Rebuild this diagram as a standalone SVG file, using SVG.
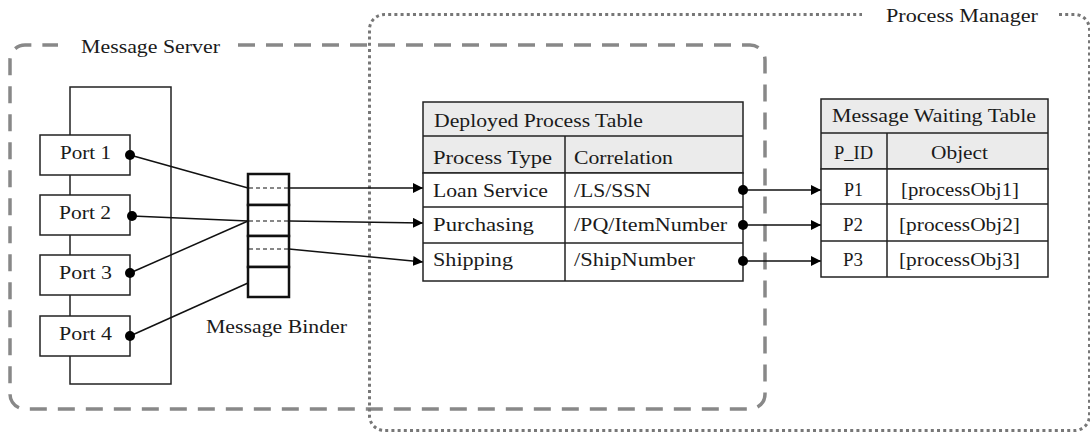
<svg xmlns="http://www.w3.org/2000/svg" width="1090" height="433" viewBox="0 0 1090 433">
  <defs>
    <style>
      text { font-family: "Liberation Serif", "DejaVu Serif", serif; font-size: 18px; fill: #1a1a1a; }
      .zone-dash { fill: none; stroke: #888; stroke-width: 3.5; stroke-dasharray: 17 11; }
      .zone-dot { fill: none; stroke: #777; stroke-width: 3; stroke-dasharray: 3 3.2; }
      .box { fill: #fff; stroke: #222; stroke-width: 1.5; }
      .head { fill: #ebebeb; stroke: #222; stroke-width: 1.5; }
      .grid { stroke: #222; stroke-width: 1.5; fill: none; }
      .slot { fill: #fff; stroke: #111; stroke-width: 2.5; }
      .slot-mark { stroke: #111; stroke-width: 1.2; stroke-dasharray: 4 3; }
      .wire { stroke: #111; stroke-width: 1.5; fill: none; }
      .dot { fill: #000; }
    </style>
    <marker id="arrow" viewBox="0 0 10 10" refX="10" refY="5" markerWidth="10" markerHeight="10" markerUnits="userSpaceOnUse" orient="auto">
      <path d="M0,0 L10,5 L0,10 Z" fill="#000"/>
    </marker>
  </defs>

  <!-- containers -->
  <g id="message-server">
    <path class="zone-dash" d="M238,45 H750 A15,15 0 0 1 765,60 V394 A15,15 0 0 1 750,409 H25 A15,15 0 0 1 10,394 V60 A15,15 0 0 1 25,45 H58"/>
    <text x="81" y="53" textLength="139" lengthAdjust="spacingAndGlyphs">Message Server</text>
  </g>
  <g id="process-manager">
    <path class="zone-dot" d="M1059,14.5 H1074 A15,15 0 0 1 1089.5,30 V415 A15,15 0 0 1 1074,430.5 H385 A15,15 0 0 1 369.5,415 V30 A15,15 0 0 1 385,14.5 H862"/>
    <text x="886" y="22" textLength="152" lengthAdjust="spacingAndGlyphs">Process Manager</text>
  </g>

  <!-- port rack frame -->
  <g id="port-rack">
    <rect class="box" x="70" y="87" width="101" height="297"/>
  </g>

  <!-- connectors -->
  <g id="connectors">
    <line class="wire" x1="130" y1="155" x2="248" y2="188"/>
    <line class="wire" x1="132" y1="216" x2="248" y2="221"/>
    <line class="wire" x1="130" y1="273" x2="248" y2="221"/>
    <line class="wire" x1="130" y1="336" x2="248" y2="283"/>
    <line class="wire" x1="289" y1="188" x2="423" y2="188" marker-end="url(#arrow)"/>
    <line class="wire" x1="289" y1="221" x2="423" y2="223" marker-end="url(#arrow)"/>
    <line class="wire" x1="289" y1="249" x2="423" y2="262" marker-end="url(#arrow)"/>
    <line class="wire" x1="743" y1="190" x2="821" y2="190" marker-end="url(#arrow)"/>
    <line class="wire" x1="743" y1="225" x2="821" y2="225" marker-end="url(#arrow)"/>
    <line class="wire" x1="743" y1="261" x2="821" y2="261" marker-end="url(#arrow)"/>
  </g>

  <!-- ports -->
  <g id="port-1">
    <rect class="box" x="40" y="135" width="90" height="40"/>
    <text x="60" y="159" textLength="51" lengthAdjust="spacingAndGlyphs">Port 1</text>
    <circle class="dot" cx="130" cy="155" r="5"/>
  </g>
  <g id="port-2">
    <rect class="box" x="40" y="195" width="90" height="40"/>
    <text x="59" y="219" textLength="52" lengthAdjust="spacingAndGlyphs">Port 2</text>
    <circle class="dot" cx="132" cy="216" r="5"/>
  </g>
  <g id="port-3">
    <rect class="box" x="40" y="255" width="90" height="40"/>
    <text x="59" y="279" textLength="53" lengthAdjust="spacingAndGlyphs">Port 3</text>
    <circle class="dot" cx="130" cy="273" r="5"/>
  </g>
  <g id="port-4">
    <rect class="box" x="40" y="316" width="90" height="40"/>
    <text x="59" y="340" textLength="53" lengthAdjust="spacingAndGlyphs">Port 4</text>
    <circle class="dot" cx="130" cy="336" r="5"/>
  </g>

  <!-- message binder -->
  <g id="message-binder">
    <rect class="slot" x="248" y="174" width="41" height="31"/>
    <rect class="slot" x="248" y="205" width="41" height="31"/>
    <rect class="slot" x="248" y="236" width="41" height="31"/>
    <rect class="slot" x="248" y="267" width="41" height="30"/>
    <line class="slot-mark" x1="249" y1="188" x2="288" y2="188"/>
    <line class="slot-mark" x1="249" y1="221" x2="288" y2="221"/>
    <line class="slot-mark" x1="249" y1="249" x2="288" y2="249"/>
    <text x="206" y="333" textLength="141" lengthAdjust="spacingAndGlyphs">Message Binder</text>
  </g>

  <!-- deployed process table -->
  <g id="deployed-process-table">
    <rect class="head" x="423" y="102" width="320" height="71"/>
    <rect class="box" x="423" y="173" width="320" height="108"/>
    <line class="grid" x1="423" y1="136" x2="743" y2="136"/>
    <line class="grid" x1="423" y1="207" x2="743" y2="207"/>
    <line class="grid" x1="423" y1="243" x2="743" y2="243"/>
    <line class="grid" x1="565" y1="136" x2="565" y2="281"/>
    <text x="434" y="127" textLength="209" lengthAdjust="spacingAndGlyphs">Deployed Process Table</text>
    <text x="433" y="164" textLength="119" lengthAdjust="spacingAndGlyphs">Process Type</text>
    <text x="574" y="164" textLength="99" lengthAdjust="spacingAndGlyphs">Correlation</text>
    <text x="433" y="197" textLength="115" lengthAdjust="spacingAndGlyphs">Loan Service</text>
    <text x="574" y="197" textLength="77" lengthAdjust="spacingAndGlyphs">/LS/SSN</text>
    <text x="433" y="231" textLength="101" lengthAdjust="spacingAndGlyphs">Purchasing</text>
    <text x="574" y="231" textLength="153" lengthAdjust="spacingAndGlyphs">/PQ/ItemNumber</text>
    <text x="433" y="266" textLength="80" lengthAdjust="spacingAndGlyphs">Shipping</text>
    <text x="574" y="266" textLength="121" lengthAdjust="spacingAndGlyphs">/ShipNumber</text>
    <circle class="dot" cx="743" cy="190" r="5"/>
    <circle class="dot" cx="743" cy="225" r="5"/>
    <circle class="dot" cx="743" cy="261" r="5"/>
  </g>

  <!-- message waiting table -->
  <g id="message-waiting-table">
    <rect class="head" x="821" y="99" width="227" height="70"/>
    <rect class="box" x="821" y="169" width="227" height="108"/>
    <line class="grid" x1="821" y1="133" x2="1048" y2="133"/>
    <line class="grid" x1="820" y1="204" x2="1048" y2="204"/>
    <line class="grid" x1="821" y1="241" x2="1048" y2="241"/>
    <line class="grid" x1="887" y1="133" x2="887" y2="277"/>
    <text x="832" y="122" textLength="204" lengthAdjust="spacingAndGlyphs">Message Waiting Table</text>
    <text x="834" y="159" textLength="39" lengthAdjust="spacingAndGlyphs">P_ID</text>
    <text x="931" y="159" textLength="57" lengthAdjust="spacingAndGlyphs">Object</text>
    <text x="844" y="196" textLength="19" lengthAdjust="spacingAndGlyphs">P1</text>
    <text x="901" y="196" textLength="118" lengthAdjust="spacingAndGlyphs">[processObj1]</text>
    <text x="843" y="231" textLength="20" lengthAdjust="spacingAndGlyphs">P2</text>
    <text x="899" y="231" textLength="121" lengthAdjust="spacingAndGlyphs">[processObj2]</text>
    <text x="843" y="266" textLength="20" lengthAdjust="spacingAndGlyphs">P3</text>
    <text x="899" y="266" textLength="121" lengthAdjust="spacingAndGlyphs">[processObj3]</text>
  </g>
</svg>
